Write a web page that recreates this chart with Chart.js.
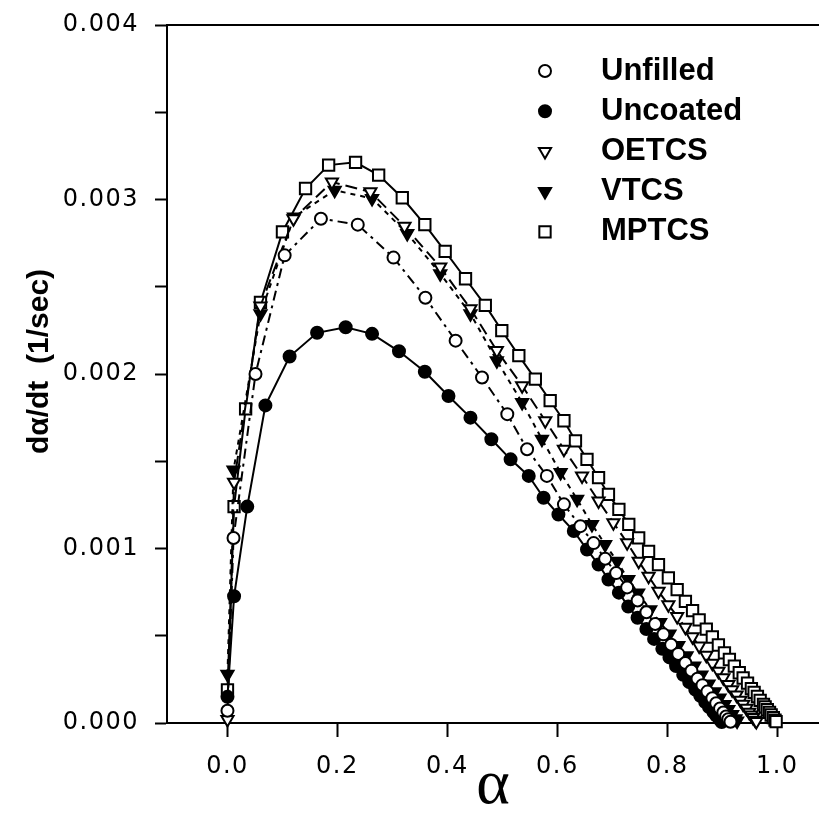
<!DOCTYPE html>
<html>
<head>
<meta charset="utf-8">
<script src="https://cdn.jsdelivr.net/npm/chart.js@4.4.1/dist/chart.umd.min.js"></script>
<style>
  html, body { margin: 0; padding: 0; background: #fff; }
  #wrap { width: 819px; height: 813px; position: relative; }
</style>
</head>
<body>
<div id="wrap"><canvas id="rateChart"></canvas></div>
<script>
// DADOS (alpha, d alpha/dt)
const unfilledX = [0.000, 0.011, 0.051, 0.104, 0.170, 0.237, 0.302, 0.360, 0.415, 0.463, 0.509, 0.545, 0.581, 0.612, 0.642, 0.666, 0.687, 0.707, 0.727, 0.746, 0.762, 0.778, 0.793, 0.807, 0.820, 0.833, 0.844, 0.855, 0.864, 0.873, 0.882, 0.889, 0.896, 0.902, 0.907, 0.911, 0.915];
const unfilledY = [0.00007, 0.00106, 0.00200, 0.00268, 0.00289, 0.002856, 0.002667, 0.002437, 0.002191, 0.00198, 0.00177, 0.001569, 0.001416, 0.001253, 0.001128, 0.001031, 0.000941, 0.000859, 0.000777, 0.000702, 0.000635, 0.000567, 0.000508, 0.000448, 0.000396, 0.000344, 0.000299, 0.000254, 0.000217, 0.00018, 0.000142, 0.000113, 0.000083, 0.00006, 0.000037, 0.000022, 0.000007];

const uncoatedX = [0.000, 0.012, 0.036, 0.069, 0.113, 0.163, 0.215, 0.263, 0.312, 0.359, 0.402, 0.442, 0.480, 0.515, 0.548, 0.575, 0.602, 0.630, 0.654, 0.675, 0.693, 0.712, 0.729, 0.746, 0.762, 0.776, 0.791, 0.804, 0.816, 0.829, 0.840, 0.851, 0.860, 0.869, 0.876, 0.884, 0.889, 0.895, 0.899];
const uncoatedY = [0.00015, 0.000726, 0.00124, 0.00182, 0.0021, 0.002236, 0.002268, 0.00223, 0.00213, 0.002013, 0.001874, 0.00175, 0.001626, 0.001511, 0.001416, 0.001291, 0.001195, 0.0011, 0.000994, 0.000908, 0.000822, 0.000747, 0.000667, 0.000603, 0.000539, 0.000482, 0.000425, 0.000376, 0.000326, 0.000276, 0.000234, 0.000191, 0.000156, 0.00012, 0.000092, 0.000063, 0.000042, 0.000021, 0.000006];

const oetcsX = [0.000, 0.012, 0.060, 0.120, 0.190, 0.260, 0.322, 0.387, 0.442, 0.490, 0.536, 0.578, 0.612, 0.645, 0.675, 0.702, 0.727, 0.748, 0.766, 0.784, 0.802, 0.818, 0.833, 0.846, 0.858, 0.871, 0.882, 0.893, 0.902, 0.911, 0.918, 0.926, 0.933, 0.938, 0.944, 0.949, 0.953, 0.956, 0.960, 0.962];
const oetcsY = [0.00002, 0.00138, 0.00239, 0.00289, 0.0031, 0.003044, 0.002847, 0.002613, 0.002374, 0.002134, 0.001933, 0.001732, 0.001569, 0.001416, 0.001272, 0.001148, 0.001033, 0.000927, 0.000841, 0.000755, 0.000678, 0.000611, 0.000548, 0.000494, 0.000441, 0.000388, 0.000343, 0.000297, 0.000259, 0.000221, 0.000191, 0.00016, 0.00013, 0.000107, 0.000084, 0.000061, 0.000046, 0.000031, 0.000016, 0.000008];

const vtcsX = [0.000, 0.011, 0.060, 0.121, 0.195, 0.263, 0.327, 0.387, 0.442, 0.490, 0.536, 0.572, 0.606, 0.636, 0.663, 0.687, 0.709, 0.729, 0.747, 0.769, 0.787, 0.804, 0.820, 0.835, 0.849, 0.862, 0.875, 0.886, 0.895, 0.904, 0.911, 0.918, 0.924, 0.927];
const vtcsY = [0.00028, 0.00145, 0.002345, 0.0029, 0.003053, 0.003006, 0.002805, 0.002575, 0.002345, 0.002076, 0.001837, 0.001626, 0.001435, 0.001282, 0.001138, 0.001023, 0.000927, 0.000822, 0.000745, 0.000649, 0.000576, 0.00051, 0.000444, 0.000385, 0.000326, 0.000275, 0.000224, 0.000179, 0.000143, 0.000106, 0.000077, 0.000048, 0.000025, 0.000011];

const mptcsX = [0.000, 0.012, 0.033, 0.060, 0.100, 0.142, 0.184, 0.233, 0.275, 0.318, 0.359, 0.396, 0.433, 0.469, 0.499, 0.530, 0.560, 0.587, 0.612, 0.633, 0.654, 0.675, 0.693, 0.712, 0.730, 0.748, 0.766, 0.784, 0.802, 0.818, 0.833, 0.846, 0.858, 0.871, 0.882, 0.893, 0.904, 0.913, 0.922, 0.931, 0.938, 0.946, 0.953, 0.958, 0.964, 0.969, 0.975, 0.978, 0.982, 0.986, 0.989, 0.993, 0.996, 0.998];
const mptcsY = [0.00019, 0.00124, 0.0018, 0.00241, 0.002814, 0.003063, 0.003197, 0.003213, 0.00314, 0.00301, 0.002856, 0.002703, 0.002546, 0.002393, 0.002249, 0.002105, 0.001971, 0.001847, 0.001732, 0.001617, 0.001511, 0.001406, 0.00131, 0.001224, 0.001138, 0.001061, 0.000984, 0.000908, 0.000832, 0.000764, 0.000697, 0.000644, 0.000591, 0.000538, 0.000493, 0.000447, 0.000402, 0.000364, 0.000326, 0.000288, 0.000258, 0.000228, 0.000197, 0.000175, 0.000152, 0.00013, 0.000107, 0.000092, 0.000076, 0.000061, 0.000046, 0.000031, 0.000016, 0.000008];

const xTickValues = [0, 0.2, 0.4, 0.6, 0.8, 1.0];
const xTickLabels = ["0.0", "0.2", "0.4", "0.6", "0.8", "1.0"];
const yTickValues = [0, 0.0005, 0.001, 0.0015, 0.002, 0.0025, 0.003, 0.0035, 0.004];
const yTickLabels = ["0.000", "", "0.001", "", "0.002", "", "0.003", "", "0.004"];

const X_MIN = -0.11, X_MAX = 1.076;

function pts(xs, ys) {
  return xs.map((x, i) => ({ x: x, y: ys[i] }));
}

function serie(label, xs, ys, style, filled, radius, dash, rot) {
  return {
    label: label,
    data: pts(xs, ys),
    showLine: true,
    borderColor: "#000",
    borderWidth: 2,
    borderDash: dash,
    pointStyle: style,
    pointRotation: rot || 0,
    pointRadius: radius,
    pointBorderWidth: 2,
    pointBorderColor: "#000",
    pointBackgroundColor: filled ? "#000" : "#fff",
    backgroundColor: filled ? "#000" : "#fff",
    clip: false,
    xAxisID: "x",
    yAxisID: "y",
  };
}

// legenda no canto superior direito + espacamento dos numeros dos eixos
const cornerLegend = {
  id: "cornerLegend",
  beforeDraw(chart) { chart.ctx.letterSpacing = "0px"; },
  afterDatasetsDraw(chart) { chart.ctx.letterSpacing = "1.5px"; },
  afterDraw(chart) {
    const ctx = chart.ctx;
    ctx.save();
    ctx.letterSpacing = "0px";
    chart.data.datasets.forEach((ds, i) => {
      const y = 71 + i * 40.2;
      ctx.lineWidth = 2;
      ctx.strokeStyle = "#000";
      ctx.fillStyle = ds.pointBackgroundColor;
      ctx.setLineDash([]);
      Chart.helpers.drawPoint(ctx, {
        pointStyle: ds.pointStyle,
        rotation: ds.pointRotation,
        radius: ds.pointRadius,
        borderWidth: 2,
      }, 545, y);
      ctx.fillStyle = "#000";
      ctx.font = "bold 31px 'Liberation Sans'";
      ctx.textBaseline = "middle";
      ctx.textAlign = "left";
      ctx.fillText(ds.label, 601, y);
    });
    ctx.restore();
  },
};

const ctx = document.getElementById("rateChart");

new Chart(ctx, {
  type: "scatter",
  data: {
    datasets: [
      serie("Unfilled", unfilledX, unfilledY, "circle", false, 6, [10, 5, 3, 5]),
      serie("Uncoated", uncoatedX, uncoatedY, "circle", true, 6, []),
      serie("OETCS", oetcsX, oetcsY, "triangle", false, 7, [12, 6], 180),
      serie("VTCS", vtcsX, vtcsY, "triangle", true, 7, [5, 5], 180),
      serie("MPTCS", mptcsX, mptcsY, "rect", false, 8, []),
    ],
  },
  options: {
    responsive: true,
    maintainAspectRatio: false,
    animation: false,
    layout: { autoPadding: false, padding: { top: 25, left: 0, right: 0, bottom: 0 } },
    plugins: { legend: { display: false }, tooltip: { enabled: false } },
    scales: {
      x: {
        type: "linear",
        position: "bottom",
        min: X_MIN,
        max: X_MAX,
        afterBuildTicks(scale) { scale.ticks = xTickValues.map((v) => ({ value: v })); },
        afterFit(scale) {
          scale.height = 90;
          scale.paddingLeft = 0;
          scale.paddingRight = 0;
        },
        ticks: {
          z: 1,
          color: "#000",
          padding: 15,
          maxRotation: 0,
          font: { family: "'DejaVu Sans'", size: 24 },
          callback: (v, i) => xTickLabels[i],
        },
        grid: { drawOnChartArea: false, drawTicks: true, tickLength: 14, tickWidth: 2, color: "#000" },
        border: { display: true, color: "#000", width: 2 },
        title: {
          display: true,
          text: "α",
          color: "#000",
          font: { family: "'Liberation Serif'", size: 64, lineHeight: 0.85 },
          padding: { top: 0, bottom: 0 },
        },
      },
      xTop: {
        type: "linear",
        position: "top",
        min: X_MIN,
        max: X_MAX,
        afterFit(scale) {
          scale.height = 0;
          scale.paddingLeft = 0;
          scale.paddingRight = 0;
        },
        ticks: { display: false },
        grid: { display: false, drawTicks: false },
        border: { display: true, color: "#000", width: 2 },
      },
      y: {
        type: "linear",
        position: "left",
        min: 0,
        max: 0.004,
        afterBuildTicks(scale) { scale.ticks = yTickValues.map((v) => ({ value: v })); },
        afterFit(scale) {
          scale.width = 167;
          scale.paddingTop = 0;
          scale.paddingBottom = 0;
        },
        ticks: {
          z: 1,
          color: "#000",
          padding: 16,
          font: { family: "'DejaVu Sans'", size: 24 },
          callback: (v, i) => yTickLabels[i],
        },
        grid: { drawOnChartArea: false, drawTicks: true, tickLength: 12, tickWidth: 2, color: "#000" },
        border: { display: true, color: "#000", width: 2 },
        title: {
          display: true,
          text: "   dα/dt  (1/sec)",
          color: "#000",
          font: { family: "'Liberation Sans'", size: 30, weight: "bold" },
          padding: { top: 22, bottom: 0 },
        },
      },
    },
  },
  plugins: [cornerLegend],
});
</script>
</body>
</html>
